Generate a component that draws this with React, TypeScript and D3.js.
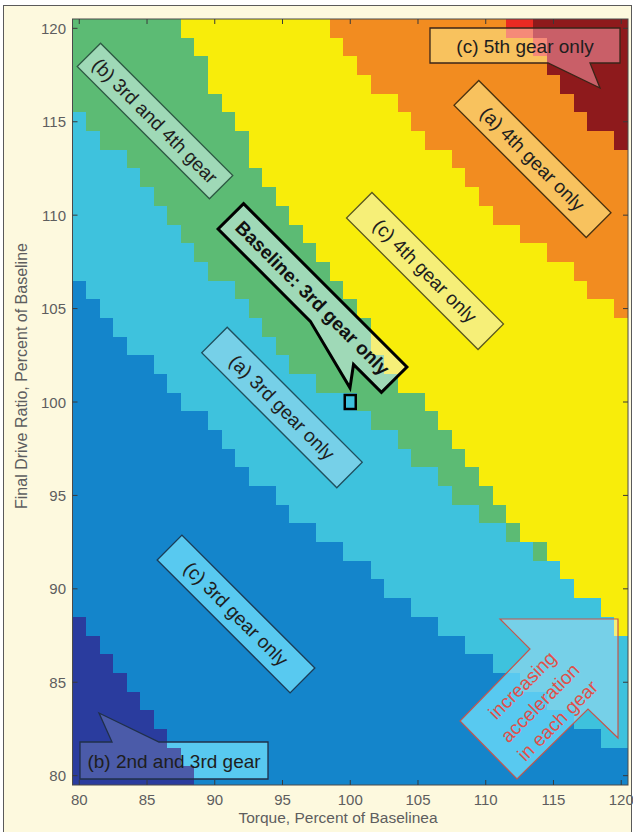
import React from "react";
import * as d3 from "d3";

// grid of the map: torque columns and final drive ratio rows (percent of baseline)
const torque = [80, 81, 82, 83, 84, 85, 86, 87, 88, 89, 90, 91, 92, 93, 94, 95, 96, 97, 98, 99, 100,
  101, 102, 103, 104, 105, 106, 107, 108, 109, 110, 111, 112, 113, 114, 115, 116, 117, 118, 119, 120];
const ratio = [120, 119, 118, 117, 116, 115, 114, 113, 112, 111, 110, 109, 108, 107, 106, 105, 104, 103, 102, 101, 100,
  99, 98, 97, 96, 95, 94, 93, 92, 91, 90, 89, 88, 87, 86, 85, 84, 83, 82, 81, 80];

// first torque column where each region starts, one entry per ratio row (121 = region not reached)
const blueFrom = [80, 80, 80, 80, 80, 80, 80, 80, 80, 80, 80, 80, 80, 80, 80, 80, 80, 80, 80, 80, 80,
  80, 80, 80, 80, 80, 80, 80, 80, 80, 80, 80, 81, 82, 83, 84, 85, 86, 87, 88, 89];
const cyanFrom = [80, 80, 80, 80, 80, 80, 80, 80, 80, 80, 80, 80, 80, 80, 81, 82, 83, 84, 86, 87, 88,
  90, 91, 92, 93, 95, 96, 98, 100, 102, 103, 105, 107, 109, 111, 113, 115, 117, 119, 121, 121];
const greenFrom = [80, 80, 80, 80, 80, 81, 82, 84, 85, 86, 87, 88, 89, 90, 92, 93, 94, 95, 96, 98, 101,
  102, 104, 105, 107, 108, 110, 112, 114, 116, 117, 119, 120, 121, 121, 121, 121, 121, 121, 121, 121];
const yellowFrom = [88, 89, 90, 90, 91, 92, 93, 93, 94, 95, 96, 97, 98, 99, 100, 101, 102, 102, 103, 104, 106,
  107, 108, 109, 110, 111, 112, 113, 115, 116, 117, 119, 120, 121, 121, 121, 121, 121, 121, 121, 121];
const orangeFrom = [99, 100, 101, 102, 104, 105, 106, 108, 109, 110, 111, 113, 115, 117, 118, 120, 121, 121, 121, 121, 121,
  121, 121, 121, 121, 121, 121, 121, 121, 121, 121, 121, 121, 121, 121, 121, 121, 121, 121, 121, 121];
const redFrom = [112, 114, 115, 116, 117, 118, 120, 121, 121, 121, 121, 121, 121, 121, 121, 121, 121, 121, 121, 121, 121,
  121, 121, 121, 121, 121, 121, 121, 121, 121, 121, 121, 121, 121, 121, 121, 121, 121, 121, 121, 121];
const darkRedFrom = [114, 115, 115, 116, 117, 118, 120, 121, 121, 121, 121, 121, 121, 121, 121, 121, 121, 121, 121, 121, 121,
  121, 121, 121, 121, 121, 121, 121, 121, 121, 121, 121, 121, 121, 121, 121, 121, 121, 121, 121, 121];

const regionColors = ["#2a3c9e", "#1485cb", "#3ec2dd", "#5cbb74", "#f8ed0a", "#f28c20", "#ea2a22", "#8e1a1c"];
// colours of the same regions seen through the translucent labels
const tintColors = ["#4b5ba9", "#58c9f0", "#76d0e8", "#9fd9b7", "#f6ef78", "#f8c25e", "#f58a78", "#c95f68"];

const tickValues = [80, 85, 90, 95, 100, 105, 110, 115, 120];
const baseline = { torque: 100, ratio: 100 };

const W = 633, H = 832;
const plot = { left: 72.5, right: 628, top: 19, bottom: 785 };
const font = "'Liberation Sans', Arial, sans-serif";

const x = d3.scaleLinear().domain([79.5, 120.5]).range([plot.left, plot.right]);
const y = d3.scaleLinear().domain([79.5, 120.5]).range([plot.bottom, plot.top]);

const starts = [blueFrom, cyanFrom, greenFrom, yellowFrom, orangeFrom, redFrom, darkRedFrom];
const runs = ratio.flatMap((r, i) => {
  const edges = [torque[0], ...starts.map(s => s[i]), torque[torque.length - 1] + 1];
  return regionColors
    .map((_, k) => ({ r, k, from: edges[k], to: edges[k + 1] }))
    .filter(d => d.to > d.from);
});

function Cells({ colors }: { colors: string[] }) {
  return (
    <g shapeRendering="crispEdges">
      {runs.map((d, i) => (
        <rect key={i}
          x={x(d.from - 0.5)} y={y(d.r + 0.5)}
          width={x(d.to - 0.5) - x(d.from - 0.5)}
          height={y(d.r - 0.5) - y(d.r + 0.5)}
          fill={colors[d.k]} />
      ))}
    </g>
  );
}

const rot = (cx: number, cy: number) => `translate(${cx},${cy}) rotate(45)`;
const boxPath = (w: number, h: number) => `M${-w / 2},${-h / 2}H${w / 2}V${h / 2}H${-w / 2}Z`;

// label layout (pixels)
const labels = [
  { text: "(b) 3rd and 4th gear", d: boxPath(187, 33), t: rot(155, 121), stroke: "#2e5a44" },
  { text: "(a) 3rd gear only", d: boxPath(191, 36), t: rot(282, 407.5), stroke: "#1f4f5e" },
  { text: "(c) 3rd gear only", d: boxPath(188, 35), t: rot(236, 614), stroke: "#1b3a55" },
  { text: "(c) 4th gear only", d: boxPath(186, 36), t: rot(425, 271), stroke: "#5c5a1e" },
  { text: "(a) 4th gear only", d: boxPath(187, 35), t: rot(532.5, 159), stroke: "#4a3210" },
];

const callouts = [
  { text: "(c) 5th gear only", d: "M430,28H620V63H590L600,88L548,63H430Z", tx: 525, ty: 46, stroke: "#3a2518" },
  { text: "(b) 2nd and 3rd gear", d: "M80,742H112L99,713L159,742H268V779H80Z", tx: 174, ty: 761, stroke: "#20304a" },
];

const arrowPath = "M500,619L618,619L618,738L588,709L517,779L460,721L530,649Z";
const arrowLines = ["increasing", "acceleration", "in each gear"];

export default function App() {
  const clipShapes = [
    ...labels.map(l => ({ d: l.d, t: l.t })),
    { d: "M-115.5,-18H115.5V18H76L90,37L15,18H-115.5Z", t: rot(312.5, 298) },
    ...callouts.map(c => ({ d: c.d, t: "" })),
    { d: arrowPath, t: "" },
  ];

  return (
    <div style={{ position: "absolute", left: 0, top: 0 }}>
      <svg width={W} height={H} style={{ display: "block" }} fontFamily={font}>
        <defs>
          {clipShapes.map((c, i) => (
            <clipPath id={`clip-${i}`} key={i}>
              <path d={c.d} transform={c.t || undefined} />
            </clipPath>
          ))}
        </defs>
        <rect width={W} height={H} fill="#ffffff" />
        <rect x={3.5} y={5.5} width={628} height={840} fill="#fdf9de" stroke="#5a5a5a" strokeWidth={1} />

        <Cells colors={regionColors} />

        {/* translucent label backgrounds */}
        {clipShapes.map((c, i) => (
          <g key={i} clipPath={`url(#clip-${i})`}>
            <Cells colors={tintColors} />
          </g>
        ))}

        {/* frame and ticks */}
        <rect x={plot.left} y={plot.top} width={plot.right - plot.left} height={plot.bottom - plot.top}
          fill="none" stroke="#4a4a4a" strokeWidth={1} />
        {tickValues.map(t => (
          <g key={t} stroke="#3a3a3a" strokeWidth={1}>
            <line x1={x(t)} x2={x(t)} y1={plot.bottom} y2={plot.bottom - 5} />
            <line x1={x(t)} x2={x(t)} y1={plot.top} y2={plot.top + 5} />
            <line x1={plot.left} x2={plot.left + 5} y1={y(t)} y2={y(t)} />
            <line x1={plot.right} x2={plot.right - 5} y1={y(t)} y2={y(t)} />
          </g>
        ))}
        {tickValues.map(t => (
          <text key={`x${t}`} x={x(t)} y={805} textAnchor="middle" fontSize={15} fill="#5e5e5e">{t}</text>
        ))}
        {tickValues.map(t => (
          <text key={`y${t}`} x={66} y={y(t)} textAnchor="end" dominantBaseline="central" fontSize={15} fill="#5e5e5e">{t}</text>
        ))}
        <text x={338} y={823} textAnchor="middle" fontSize={15.5} fill="#5e5e5e">Torque, Percent of Baselinea</text>
        <text transform={`translate(21,376) rotate(-90)`} textAnchor="middle" dominantBaseline="central"
          fontSize={16} fill="#5e5e5e">Final Drive Ratio, Percent of Baseline</text>

        {/* rotated labels */}
        {labels.map(l => (
          <g key={l.text} transform={l.t}>
            <path d={l.d} fill="none" stroke={l.stroke} strokeWidth={1.3} />
            <text textAnchor="middle" dominantBaseline="central" fontSize={19} fill="#1e1e1e">{l.text}</text>
          </g>
        ))}

        {/* baseline callout */}
        <g transform={rot(312.5, 298)}>
          <path d="M-115.5,-18H115.5V18H76L90,37L15,18H-115.5Z" fill="none" stroke="#000" strokeWidth={3}
            strokeLinejoin="miter" />
          <text textAnchor="middle" dominantBaseline="central" fontSize={19} fontWeight="bold" fill="#111">
            Baseline: 3rd gear only
          </text>
        </g>
        <rect x={x(baseline.torque) - 5.5} y={y(baseline.ratio) - 7} width={11} height={14}
          fill="none" stroke="#000" strokeWidth={2.5} />

        {/* horizontal callouts */}
        {callouts.map(c => (
          <g key={c.text}>
            <path d={c.d} fill="none" stroke={c.stroke} strokeWidth={1.3} />
            <text x={c.tx} y={c.ty} textAnchor="middle" dominantBaseline="central" fontSize={19} fill="#1e1e1e">{c.text}</text>
          </g>
        ))}

        {/* acceleration arrow */}
        <path d={arrowPath} fill="none" stroke="#c4564c" strokeWidth={1.2} />
        <g transform="translate(540,703) rotate(-45)">
          {arrowLines.map((s, i) => (
            <text key={s} y={(i - 1) * 25} textAnchor="middle" dominantBaseline="central" fontSize={19} fill="#e0504a">{s}</text>
          ))}
        </g>
      </svg>
    </div>
  );
}
